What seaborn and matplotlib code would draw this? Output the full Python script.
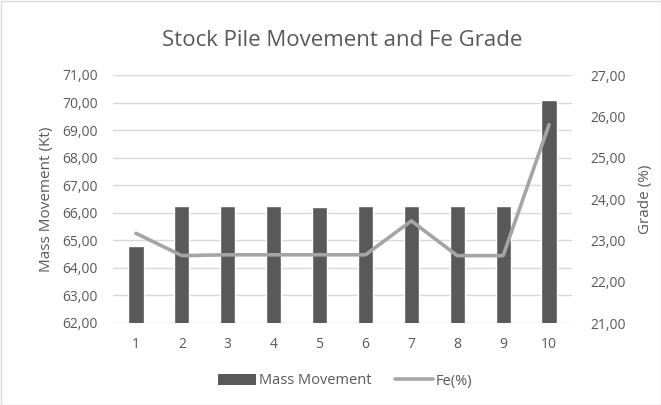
import matplotlib
matplotlib.use("Agg")
import matplotlib.pyplot as plt
import seaborn as sns
import pandas as pd
import numpy as np
from matplotlib.patches import Patch
from matplotlib.lines import Line2D

categories = ["1", "2", "3", "4", "5", "6", "7", "8", "9", "10"]
mass_movement = [64.80, 66.23, 66.23, 66.23, 66.20, 66.23, 66.23, 66.26, 66.26, 70.09]
fe_grade = [23.17, 22.63, 22.65, 22.65, 22.65, 22.65, 23.47, 22.63, 22.63, 25.80]
left_ticks = [62, 63, 64, 65, 66, 67, 68, 69, 70, 71]
right_ticks = [21, 22, 23, 24, 25, 26, 27]

sns.set_theme(style="white")
plt.rcParams['font.family'] = ['Open Sans', 'DejaVu Sans']
txt = "#595959"

df = pd.DataFrame({"cat": categories, "mass": mass_movement, "fe": fe_grade})
df["pos"] = np.arange(len(df))

fig = plt.figure(figsize=(6.61, 4.05), dpi=100)
ax = fig.add_axes([113/661, 1-323/405, (572-113)/661, (323-75)/405])

sns.barplot(data=df, x="cat", y="mass", color="#595959", width=0.33, ax=ax,
            saturation=1, zorder=3)
ax.set_ylim(62, 71)
ax.set_yticks(left_ticks)
ax.set_yticklabels([f"{v:.2f}".replace(".", ",") for v in left_ticks])
ax.grid(axis="y", color="#D9D9D9", linewidth=1, zorder=0)
ax.set_axisbelow(True)
for s in ax.spines.values():
    s.set_visible(False)
ax.set_xlabel("")
ax.set_ylabel("Mass Movement (Kt)", color=txt, fontsize=11, labelpad=6)
ax.tick_params(axis="y", colors=txt, labelsize=10, length=0, pad=11)
ax.tick_params(axis="x", colors=txt, labelsize=10, length=0, pad=10)
ax.set_xlim(-0.5, len(categories) - 0.5)

ax2 = ax.twinx()
sns.lineplot(data=df, x="pos", y="fe", color="#A5A5A5", linewidth=2.6, ax=ax2)
ax2.set_ylim(21, 27)
ax2.set_yticks(right_ticks)
ax2.set_yticklabels([f"{v:.2f}".replace(".", ",") for v in right_ticks])
for s in ax2.spines.values():
    s.set_visible(False)
ax2.set_xlabel("")
ax2.set_ylabel("Grade (%)", color=txt, fontsize=11, labelpad=9)
ax2.tick_params(axis="y", colors=txt, labelsize=10, length=0, pad=13)
ax2.set_xlim(-0.5, len(categories) - 0.5)

fig.text(342/661, 1-40/405, "Stock Pile Movement and Fe Grade", ha="center", va="center",
         fontsize=16, color=txt)

handles = [Patch(facecolor="#595959", edgecolor="none"),
           Line2D([0], [0], color="#A5A5A5", linewidth=2.6)]
fig.legend(handles, ["Mass Movement", "Fe(%)"], loc="center", bbox_to_anchor=(345/661, 1-381/405),
           ncol=2, frameon=False, fontsize=10.5, labelcolor=txt, handlelength=2.6,
           handleheight=0.7, columnspacing=1.6, handletextpad=0.2)

fig.patches.append(plt.Rectangle((0.5/661, 0.5/405), 1-1/661, 1-1/405, transform=fig.transFigure,
                                 fill=False, edgecolor="#D9D9D9", linewidth=1))
fig.savefig("out.png", dpi=100)
